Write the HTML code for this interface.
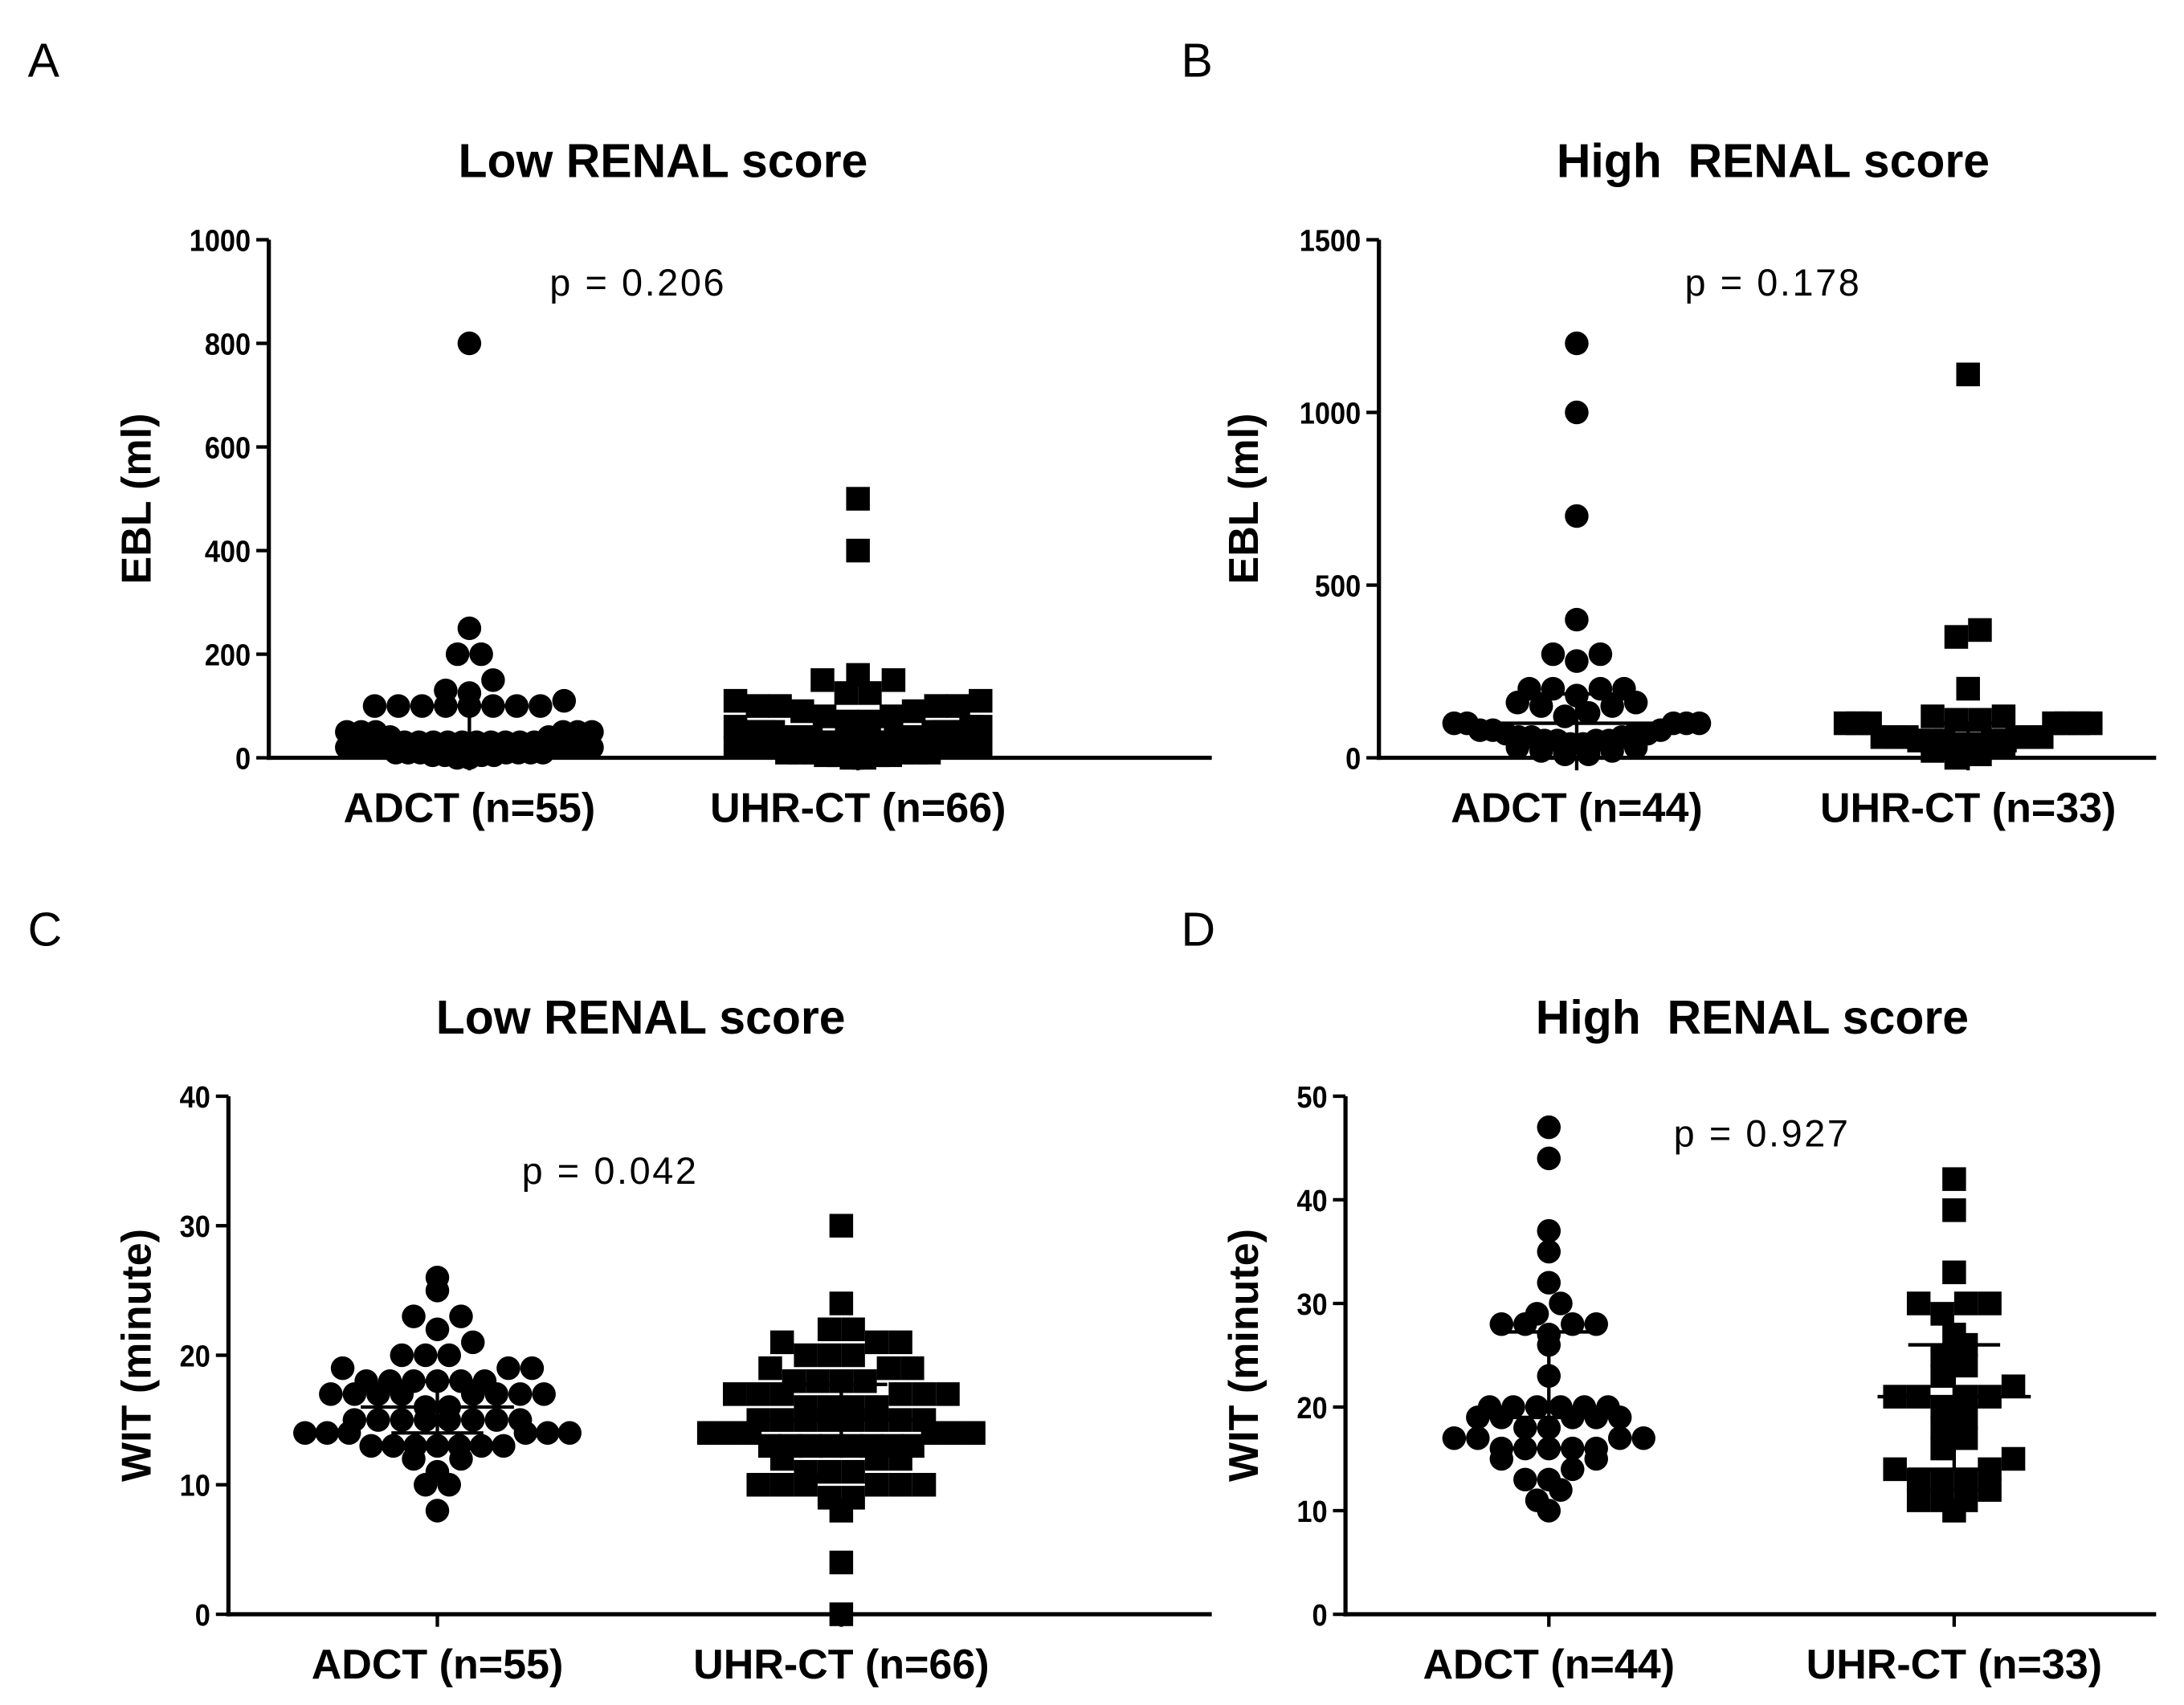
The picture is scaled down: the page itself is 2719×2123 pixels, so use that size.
<!DOCTYPE html>
<html><head><meta charset="utf-8">
<style>
html,body{margin:0;padding:0;background:#fff;}
svg{display:block;}
text{font-family:"Liberation Sans",Arial,sans-serif;fill:#000;white-space:pre;}
</style></head>
<body>
<svg id="fig" width="2719" height="2123" viewBox="0 0 1568 1224" xmlns="http://www.w3.org/2000/svg"></svg>
<script>
// ---- Data ----
const categories = ["ADCT", "UHR-CT"];
const panelLetters = ["A", "B", "C", "D"];
const panelTitles = ["Low RENAL score", "High  RENAL score", "Low RENAL score", "High  RENAL score"];
const xLabelsA = ["ADCT (n=55)", "UHR-CT (n=66)"];
const xLabelsB = ["ADCT (n=44)", "UHR-CT (n=33)"];
const pValues = ["p = 0.206", "p = 0.178", "p = 0.042", "p = 0.927"];
const yTitles = ["EBL (ml)", "EBL (ml)", "WIT (minute)", "WIT (minute)"];
const ticksA = [0, 200, 400, 600, 800, 1000];
const ticksB = [0, 500, 1000, 1500];
const ticksC = [0, 10, 20, 30, 40];
const ticksD = [0, 10, 20, 30, 40, 50];

const ebLowADCT = [800,250,200,200,150,130,125,110,100,100,100,100,100,100,100,100,50,50,50,50,50,50,40,40,30,30,30,30,30,30,30,30,30,30,20,20,20,20,20,20,20,20,10,10,10,10,10,10,10,5,5,5,5,0,0];
const ebLowUHR = [500,400,160,150,150,125,125,110,110,100,100,100,100,90,90,80,80,70,70,60,60,60,50,50,50,50,50,50,50,50,40,40,40,40,40,40,40,40,30,30,30,30,30,30,30,30,20,20,20,20,20,20,20,20,10,10,10,10,10,10,5,5,5,5,0,0];
const ebHighADCT = [1200,1000,700,400,300,300,280,200,200,200,200,180,160,160,150,150,130,120,100,100,100,100,100,80,80,80,70,70,70,60,60,60,50,50,50,50,40,40,30,30,20,20,10,10];
const ebHighUHR = [1110,370,350,200,120,120,110,110,100,100,100,100,100,100,100,60,60,60,60,60,60,50,50,50,50,50,40,40,40,30,20,10,0];
const witLowADCT = [26,25,23,23,22,21,20,20,20,19,19,19,18,18,18,18,18,18,17,17,17,17,17,17,17,17,16,16,15,15,15,15,15,15,15,15,14,14,14,14,14,14,13,13,13,13,13,13,13,12,12,11,10,10,8];
const witLowUHR = [30,24,22,22,21,21,21,20,20,20,19,19,19,18,18,18,18,17,17,17,17,17,17,16,16,16,16,15,15,15,15,15,15,15,15,14,14,14,14,14,14,13,13,13,13,13,13,13,13,12,12,12,11,11,11,10,10,10,10,10,10,9,9,8,4,0];
const witHighADCT = [47,44,37,35,32,30,29,28,28,28,28,27,26,23,20,20,20,20,20,20,19,19,19,19,19,18,18,17,17,17,17,16,16,16,16,16,15,15,14,13,13,12,11,10];
const witHighUHR = [42,39,33,30,30,30,29,27,26,25,24,23,22,21,21,21,21,20,19,18,17,16,15,14,14,13,13,13,12,11,11,11,10];

// ---- Layout (in 1568x1224 viewBox units) ----
const panels = [
  {letter:0, lx:20, ly:55, ax:193, top:172, bot:544, right:870, cx:[337,616], ticks:ticksA, max:1000, labels:xLabelsA, tx:476, ty:127, px:458, py:212, ytx:98, half:88, data:[ebLowADCT, ebLowUHR]},
  {letter:1, lx:848, ly:55, ax:990, top:172, bot:544, right:1548, cx:[1132,1413], ticks:ticksB, max:1500, labels:xLabelsB, tx:1273, ty:127, px:1273, py:212, ytx:893, half:88, data:[ebHighADCT, ebHighUHR]},
  {letter:2, lx:20, ly:679, ax:164, top:787, bot:1159, right:870, cx:[314,604], ticks:ticksC, max:40, labels:xLabelsA, tx:460, ty:742, px:438, py:850, ytx:98, half:95, data:[witLowADCT, witLowUHR]},
  {letter:3, lx:848, ly:679, ax:966, top:787, bot:1159, right:1548, cx:[1112,1403], ticks:ticksD, max:50, labels:xLabelsB, tx:1258, ty:742, px:1265, py:823, ytx:893, half:95, data:[witHighADCT, witHighUHR]}
];
const shapes = ["c", "s"];

const NS = "http://www.w3.org/2000/svg";
const svg = document.getElementById("fig");
function mk(tag, attrs, parent){
  const e = document.createElementNS(NS, tag);
  for (const k in attrs) e.setAttribute(k, attrs[k]);
  (parent||svg).appendChild(e);
  return e;
}
function quantile(arr, q){
  const s = arr.slice().sort((a,b)=>a-b);
  const pos = (s.length-1)*q, lo = Math.floor(pos), hi = Math.ceil(pos);
  return s[lo] + (s[hi]-s[lo])*(pos-lo);
}

panels.forEach((p, pi) => {
  const g = mk("g", {});
  
  
  const yScale = v => p.bot - (v / p.max) * (p.bot - p.top);

  let t = mk("text", {x:p.lx, y:p.ly, "font-size":34}, g);
  t.textContent = panelLetters[p.letter];
  
  

  t = mk("text", {x:p.tx, y:p.ty, "font-size":34, "font-weight":"bold", "text-anchor":"middle"}, g);
  t.textContent = panelTitles[pi];
  
  

  t = mk("text", {x:p.px, y:p.py, "font-size":27, "text-anchor":"middle", "letter-spacing":"1.5"}, g);
  t.textContent = pValues[pi];
  
  

  t = mk("text", {x:0, y:0, "font-size":30, "font-weight":"bold", "text-anchor":"middle", transform:`translate(${p.ytx+10},${(p.top+p.bot)/2}) rotate(-90)`}, g);
  t.textContent = yTitles[pi];
  
  

  let l = mk("line", {x1:p.ax, y1:p.top, x2:p.ax, y2:p.bot+1.5, stroke:"#000", "stroke-width":3}, g);
  
  
  l = mk("line", {x1:p.ax-1.5, y1:p.bot, x2:p.right, y2:p.bot, stroke:"#000", "stroke-width":3}, g);
  
  

  p.ticks.forEach(v => {
    const y = yScale(v);
    const tk = mk("line", {x1:p.ax-9, y1:y, x2:p.ax, y2:y, stroke:"#000", "stroke-width":2.5}, g);
    
    
    const lb = mk("text", {x:p.ax-13, y:y+8, "font-size":22, "font-weight":"bold", "text-anchor":"end", "transform":`translate(${(p.ax-13)*0.1},0) scale(0.9,1)`}, g);
    lb.textContent = v;
    
    
  });

  categories.forEach((c, ci) => {
    const cx = p.cx[ci];
    const tk = mk("line", {x1:cx, y1:p.bot, x2:cx, y2:p.bot+9, stroke:"#000", "stroke-width":2.5}, g);
    
    
    const lb = mk("text", {x:cx, y:p.bot+46, "font-size":30, "font-weight":"bold", "text-anchor":"middle"}, g);
    lb.textContent = p.labels[ci];
    
    

    // row-binned swarm, symmetric, lower values near centre
    const D = 17;
    const bins = {};
    p.data[ci].forEach(v => {
      const key = Math.round(yScale(v) / D);
      (bins[key] = bins[key] || []).push(v);
    });
    Object.keys(bins).forEach(k => {
      const vals = bins[k].slice().sort((a,b)=>a-b);
      const n = vals.length;
      const sp = n > 1 ? Math.min(D, (2*p.half)/(n-1)) : 0;
      const slots = [];
      for (let i = 0; i < n; i++) slots.push((i - (n-1)/2) * sp);
      slots.sort((a,b)=>Math.abs(a)-Math.abs(b) || a-b);
      vals.forEach((v, i) => {
        const x = cx + slots[i];
        const y = yScale(v);
        let m;
        if (shapes[ci] === "c") {
          m = mk("circle", {cx:x, cy:y, r:8.5, fill:"#000"}, g);
        } else {
          m = mk("rect", {x:x-8.5, y:y-8.5, width:17, height:17, fill:"#000"}, g);
        }
        
        
      });
    });

    const med = quantile(p.data[ci], 0.5), q1 = quantile(p.data[ci], 0.25), q3 = quantile(p.data[ci], 0.75);
    const eb = mk("g", {stroke:"#000", "stroke-width":2.5}, g);
    
    
    mk("line", {x1:cx-55, y1:yScale(med), x2:cx+55, y2:yScale(med)}, eb);
    mk("line", {x1:cx-33, y1:yScale(q1), x2:cx+33, y2:yScale(q1)}, eb);
    mk("line", {x1:cx-33, y1:yScale(q3), x2:cx+33, y2:yScale(q3)}, eb);
    mk("line", {x1:cx, y1:yScale(q1), x2:cx, y2:yScale(q3)}, eb);
  });
});
</script>
</body></html>
